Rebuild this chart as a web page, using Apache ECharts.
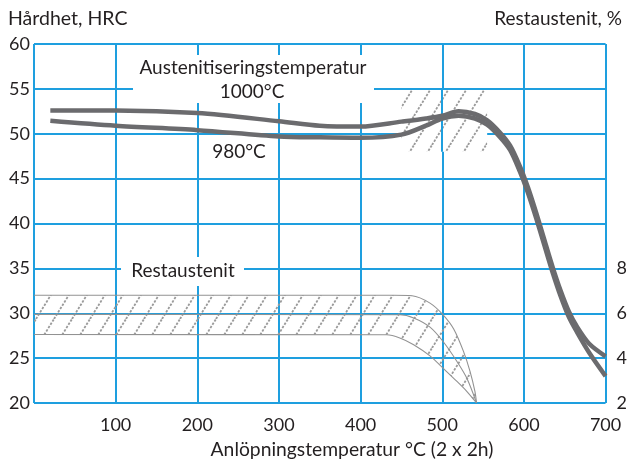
<!DOCTYPE html>
<html>
<head>
<meta charset="utf-8">
<script src="https://cdn.jsdelivr.net/npm/echarts@6/dist/echarts.min.js"></script>
<style>
html,body{margin:0;padding:0;background:#fff;}
#c{width:630px;height:460px;}
</style>
</head>
<body>
<div id="c"></div>
<script>
// ---- data ----
const temps   = [20, 100, 200, 300, 350, 400, 450, 480, 500, 520, 540, 555, 570, 583, 595, 605, 615, 625, 635, 645, 655, 665, 680, 700];
const hrc1000 = [52.6, 52.6, 52.3, 51.4, 50.9, 50.8, 51.35, 51.7, 52.0, 52.5, 52.2, 51.5, 50.2, 48.7, 46.4, 44.0, 41.2, 38.2, 35.2, 32.5, 30.2, 28.5, 26.6, 25.2];
const hrc980  = [51.45, 50.9, 50.4, 49.7, 49.6, 49.55, 49.9, 50.9, 51.7, 52.0, 51.7, 51.0, 49.7, 48.2, 45.8, 43.4, 40.6, 37.6, 34.6, 31.9, 29.6, 27.9, 25.6, 23.0];

const raUpperTemps = [0, 440, 463, 485, 501, 514, 526, 534, 540, 542];
const raUpper      = [6.8, 6.8, 6.78, 6.45, 5.93, 5.3, 4.3, 3.41, 2.52, 2.0];
const raMidTemps   = [0, 448, 465, 485, 501, 518, 530, 542];
const raMid        = [5.95, 5.93, 5.79, 5.38, 4.74, 3.85, 3.11, 2.0];
const raLowerTemps = [0, 432, 448, 465, 485, 501, 518, 530, 542];
const raLower      = [5.05, 5.04, 4.9, 4.6, 4.1, 3.55, 2.96, 2.52, 2.0];

const hatchTemps = [450, 555];
const hatchHRC   = [48, 55];

const xTicks      = [100, 200, 300, 400, 500, 600, 700];
const yLeftTicks  = [20, 25, 30, 35, 40, 45, 50, 55, 60];
const yRightTicks = [2, 4, 6, 8];

// ---- styling ----
const GRID = '#1e9fdf';
const INK = '#231f20';
const CURVE = '#6b6b6e';
const FONT = 'Lato';

function makeHatch() {
  const w = 18, h = 29;
  const c = document.createElement('canvas');
  c.width = w; c.height = h;
  const g = c.getContext('2d');
  g.strokeStyle = '#9a9a9a';
  g.lineWidth = 1.8;
  g.setLineDash([2.4, 1.5]);
  [-w, 0, w].forEach(function (dx) {
    g.beginPath(); g.moveTo(dx, h); g.lineTo(dx + w, 0); g.stroke();
  });
  return c;
}
const hatchPattern = { image: makeHatch(), repeat: 'repeat' };

const pairs = (xs, ys) => xs.map((x, i) => [x, ys[i]]);

const chart = echarts.init(document.getElementById('c'), null, { renderer: 'canvas' });

const option = {
  animation: false,
  textStyle: { fontFamily: FONT },
  grid: { left: 34, top: 44, width: 572, height: 359 },
  xAxis: {
    type: 'value', min: 0, max: 700, interval: 100,
    axisLine: { show: false }, axisTick: { show: false },
    splitLine: { show: true, lineStyle: { color: GRID, width: 2 } },
    axisLabel: {
      margin: 13, fontSize: 18, color: INK, fontFamily: FONT,
      formatter: v => xTicks.indexOf(v) >= 0 ? String(v) : ''
    }
  },
  yAxis: [
    {
      type: 'value', min: 20, max: 60, interval: 5,
      axisLine: { show: false }, axisTick: { show: false },
      splitLine: { show: true, lineStyle: { color: GRID, width: 2 } },
      axisLabel: {
        margin: 4, fontSize: 18, color: INK, fontFamily: FONT,
        formatter: v => yLeftTicks.indexOf(v) >= 0 ? String(v) : ''
      }
    },
    {
      type: 'value', position: 'right', min: 2, max: 18, interval: 2,
      axisLine: { show: false }, axisTick: { show: false },
      splitLine: { show: false },
      axisLabel: {
        margin: 11, fontSize: 18, color: INK, fontFamily: FONT,
        formatter: v => yRightTicks.indexOf(v) >= 0 ? String(v) : ''
      }
    }
  ],
  graphic: [
    { type: 'text', x: 8, y: 19, z: 20,
      style: { text: 'Hårdhet, HRC', font: '19.5px ' + FONT, fill: INK, align: 'left', verticalAlign: 'middle' } },
    { type: 'text', x: 622, y: 19, z: 20,
      style: { text: 'Restaustenit, %', font: '19px ' + FONT, fill: INK, align: 'right', verticalAlign: 'middle' } },
    { type: 'rect', z: 20, shape: { x: 133, y: 55, width: 241, height: 48 }, style: { fill: '#fff' } },
    { type: 'text', x: 253, y: 68, z: 21,
      style: { text: 'Austenitiseringstemperatur', font: '19px ' + FONT, fill: INK, align: 'center', verticalAlign: 'middle' } },
    { type: 'text', x: 252, y: 92, z: 21,
      style: { text: '1000°C', font: '19px ' + FONT, fill: INK, align: 'center', verticalAlign: 'middle' } },
    { type: 'text', x: 239, y: 152, z: 21,
      style: { text: '980°C', font: '19px ' + FONT, fill: INK, align: 'center', verticalAlign: 'middle' } },
    { type: 'rect', z: 20, shape: { x: 121, y: 257, width: 123, height: 29 }, style: { fill: '#fff' } },
    { type: 'text', x: 183, y: 271, z: 21,
      style: { text: 'Restaustenit', font: '19px ' + FONT, fill: INK, align: 'center', verticalAlign: 'middle' } },
    { type: 'text', x: 352, y: 450, z: 21,
      style: { text: 'Anlöpningstemperatur °C (2 x 2h)', font: '19.3px ' + FONT, fill: INK, align: 'center', verticalAlign: 'middle' } }
  ],
  series: [
    {
      type: 'custom', name: 'hardhatch', yAxisIndex: 0, z: 1, silent: true,
      data: [[hatchTemps[0], hatchHRC[0]]],
      renderItem: function (params, api) {
        const tl = api.coord([hatchTemps[0], hatchHRC[1]]);
        const br = api.coord([hatchTemps[1], hatchHRC[0]]);
        const shape = { x: tl[0], y: tl[1] + 1, width: br[0] - tl[0], height: br[1] - tl[1] - 1 };
        const children = [
          { type: 'rect', shape: shape, style: { fill: '#fff' } },
          { type: 'rect', shape: shape, style: { fill: hatchPattern } }
        ];
        xTicks.forEach(function (t) {
          if (t > hatchTemps[0] && t < hatchTemps[1]) {
            const a = api.coord([t, hatchHRC[1]]);
            const b = api.coord([t, hatchHRC[0]]);
            children.push({ type: 'line', shape: { x1: Math.round(a[0]), y1: a[1], x2: Math.round(b[0]), y2: b[1] },
              style: { stroke: GRID, lineWidth: 2 } });
          }
        });
        return { type: 'group', children: children };
      }
    },
    {
      type: 'custom', name: 'rahatch', yAxisIndex: 1, z: 1, silent: true,
      data: [[raUpperTemps[0], raUpper[0]]],
      renderItem: function (params, api) {
        const up = raUpperTemps.map((t, i) => api.coord([t, raUpper[i]]));
        const lo = raLowerTemps.map((t, i) => api.coord([t, raLower[i]])).reverse();
        return { type: 'polygon', shape: { points: up.concat(lo) }, style: { fill: hatchPattern } };
      }
    },
    { type: 'line', name: 'raUpper', yAxisIndex: 1, z: 2, data: pairs(raUpperTemps, raUpper), smooth: 0.3,
      symbol: 'none', lineStyle: { color: '#929292', width: 1.1 }, silent: true },
    { type: 'line', name: 'raMid', yAxisIndex: 1, z: 2, data: pairs(raMidTemps, raMid), smooth: 0.3,
      symbol: 'none', lineStyle: { color: '#929292', width: 1.1 }, silent: true },
    { type: 'line', name: 'raLower', yAxisIndex: 1, z: 2, data: pairs(raLowerTemps, raLower), smooth: 0.3,
      symbol: 'none', lineStyle: { color: '#929292', width: 1.1 }, silent: true },
    { type: 'line', name: '980°C', yAxisIndex: 0, z: 3, data: pairs(temps, hrc980), smooth: 0.3,
      symbol: 'none', lineStyle: { color: CURVE, width: 4.5 }, silent: true },
    { type: 'line', name: '1000°C', yAxisIndex: 0, z: 3, data: pairs(temps, hrc1000), smooth: 0.3,
      symbol: 'none', lineStyle: { color: CURVE, width: 4.5 }, silent: true }
  ]
};
chart.setOption(option);
</script>
</body>
</html>
